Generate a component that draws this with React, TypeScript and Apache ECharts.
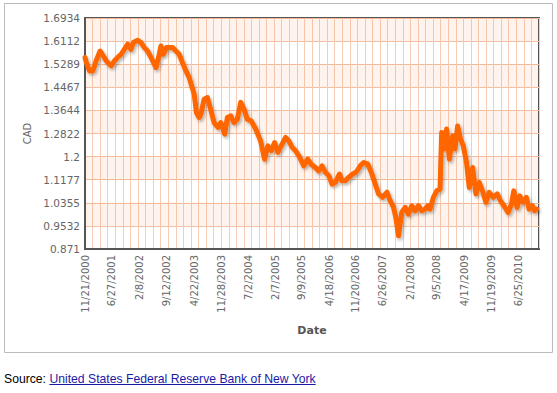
import React, { useEffect, useRef } from "react";
import * as echarts from "echarts";

const xTickLabels = [
  "11/21/2000", "6/27/2001", "2/8/2002", "9/12/2002", "4/22/2003", "11/28/2003",
  "7/2/2004", "2/7/2005", "9/9/2005", "4/18/2006", "11/20/2006", "6/26/2007",
  "2/1/2008", "9/5/2008", "4/17/2009", "11/19/2009", "6/25/2010",
];

const yTickLabels = [
  "0.871", "0.9532", "1.0355", "1.1177", "1.2", "1.2822",
  "1.3644", "1.4467", "1.5289", "1.6112", "1.6934",
];

const dates = [
  "2000-11-21", "2000-12-01", "2000-12-27", "2001-01-23", "2001-02-19", "2001-03-23", "2001-04-19", "2001-05-11", "2001-06-20", "2001-07-17", "2001-08-12", "2001-09-09", "2001-10-05", "2001-11-01", "2001-11-28",
  "2001-12-17", "2002-01-21", "2002-02-17", "2002-03-16", "2002-04-11", "2002-05-09", "2002-06-18", "2002-07-09", "2002-07-28", "2002-08-16", "2002-09-11", "2002-10-09", "2002-10-30", "2002-11-26", "2002-12-23",
  "2003-01-18", "2003-02-15", "2003-03-13", "2003-04-23", "2003-05-11", "2003-06-02", "2003-06-16", "2003-07-12", "2003-08-08", "2003-08-30", "2003-10-01", "2003-11-02", "2003-11-24", "2003-12-26",
  "2004-01-16", "2004-02-12", "2004-03-10", "2004-04-06", "2004-05-03", "2004-05-30", "2004-06-25", "2004-07-27", "2004-09-01", "2004-10-11", "2004-11-12", "2004-12-09",
  "2005-01-05", "2005-02-01", "2005-02-28", "2005-03-26", "2005-05-01", "2005-05-27", "2005-06-23", "2005-07-20", "2005-08-24", "2005-09-25", "2005-10-27", "2005-11-23", "2005-12-28",
  "2006-01-24", "2006-02-20", "2006-03-19", "2006-04-15", "2006-05-11", "2006-06-08", "2006-07-10", "2006-07-31", "2006-08-27", "2006-09-23", "2006-10-25", "2006-11-21", "2006-12-26",
  "2007-01-22", "2007-02-25", "2007-03-25", "2007-04-26", "2007-05-23", "2007-06-24", "2007-07-29", "2007-08-25", "2007-09-21", "2007-10-09", "2007-10-31", "2007-11-26", "2007-12-24",
  "2008-01-19", "2008-02-15", "2008-03-13", "2008-04-09", "2008-05-06", "2008-06-02", "2008-06-23", "2008-07-12", "2008-08-08", "2008-09-04", "2008-10-01", "2008-10-14", "2008-11-02", "2008-11-23", "2008-12-15",
  "2009-01-11", "2009-01-30", "2009-02-20", "2009-03-16", "2009-04-07", "2009-05-03", "2009-05-25", "2009-06-21", "2009-07-18", "2009-08-14", "2009-09-09", "2009-10-07", "2009-11-02", "2009-12-05",
  "2010-01-06", "2010-02-01", "2010-03-01", "2010-04-04", "2010-05-01", "2010-05-20", "2010-06-16", "2010-07-08", "2010-08-03", "2010-08-30", "2010-09-21", "2010-10-17", "2010-11-06", "2010-11-19",
];

const cadValues = [
  1.553, 1.536, 1.505, 1.505, 1.541, 1.576, 1.558, 1.541, 1.523, 1.541, 1.553, 1.564, 1.582, 1.600, 1.582,
  1.606, 1.614, 1.606, 1.588, 1.576, 1.553, 1.517, 1.553, 1.594, 1.564, 1.588, 1.588, 1.588, 1.576, 1.564,
  1.535, 1.505, 1.482, 1.422, 1.357, 1.339, 1.351, 1.404, 1.410, 1.375, 1.321, 1.304, 1.321, 1.280,
  1.339, 1.345, 1.321, 1.333, 1.393, 1.369, 1.333, 1.327, 1.298, 1.256, 1.191, 1.238,
  1.221, 1.250, 1.215, 1.238, 1.268, 1.256, 1.233, 1.221, 1.197, 1.167, 1.191, 1.173, 1.161,
  1.149, 1.167, 1.144, 1.132, 1.102, 1.108, 1.138, 1.114, 1.114, 1.126, 1.138, 1.144, 1.167,
  1.179, 1.173, 1.144, 1.102, 1.067, 1.055, 1.073, 1.043, 1.019, 0.984, 0.918, 1.001, 1.019,
  0.995, 1.025, 1.007, 1.025, 1.007, 1.013, 1.025, 1.013, 1.055, 1.078, 1.084, 1.286, 1.227, 1.298, 1.191,
  1.274, 1.227, 1.309, 1.262, 1.238, 1.179, 1.090, 1.161, 1.067, 1.108, 1.078, 1.037, 1.073, 1.055,
  1.067, 1.043, 1.025, 1.001, 1.031, 1.078, 1.019, 1.060, 1.037, 1.055, 1.013, 1.025, 1.007, 1.013,
];

const xStart = "11/21/2000";
const xEnd = "12/10/2010";

function mdyToTs(s: string): number {
  const [m, d, y] = s.split("/").map(Number);
  return new Date(y, m - 1, d).getTime();
}
function isoToTs(s: string): number {
  const [y, m, d] = s.split("-").map(Number);
  return new Date(y, m - 1, d).getTime();
}

export default function App() {
  const ref = useRef<HTMLDivElement>(null);

  useEffect(() => {
    document.body.style.margin = "0";
    const chart = echarts.init(ref.current!, null, { renderer: "svg" });
    const yTicks = yTickLabels.map(Number);
    const font = "DejaVu Sans, Verdana, sans-serif";
    const bands: any[] = [];
    for (let i = 1; i + 1 < yTicks.length; i += 2) {
      bands.push([{ yAxis: yTicks[i] }, { yAxis: yTicks[i + 1] }]);
    }
    chart.setOption({
      animation: false,
      graphic: [
        {
          type: "rect",
          shape: { x: 4.5, y: 3.5, width: 548, height: 349 },
          style: { fill: "none", stroke: "#bbbbbb", lineWidth: 1 },
          silent: true,
        },
      ],
      grid: {
        left: 85,
        top: 18,
        right: 18,
        bottom: 111,
        show: true,
        borderColor: "#555555",
        borderWidth: 2,
        backgroundColor: "transparent",
      },
      xAxis: [
        {
          type: "value",
          min: mdyToTs(xStart),
          max: mdyToTs(xEnd),
          axisLine: { show: true, lineStyle: { color: "#555555", width: 2 } },
          axisTick: { show: false, customValues: xTickLabels.map(mdyToTs) },
          splitLine: { show: false },
          axisLabel: {
            customValues: xTickLabels.map(mdyToTs),
            rotate: 90,
            margin: 6,
            color: "#666666",
            fontSize: 10,
            fontFamily: font,
            formatter: (v: number) => {
              const d = new Date(v);
              return `${d.getMonth() + 1}/${d.getDate()}/${d.getFullYear()}`;
            },
          },
          name: "Date",
          nameLocation: "middle",
          nameGap: 76,
          nameTextStyle: { color: "#555555", fontSize: 11, fontWeight: "bold", fontFamily: font },
        },
        {
          type: "value",
          min: 0,
          max: 60,
          interval: 1,
          position: "bottom",
          axisLine: { show: false },
          axisTick: { show: false },
          axisLabel: { show: false },
          splitLine: { show: true, lineStyle: { color: "#f6ccb4", width: 1 } },
        },
      ],
      yAxis: {
        type: "value",
        min: 0.871,
        max: 1.6934,
        axisLine: { show: true, lineStyle: { color: "#555555", width: 2 } },
        axisTick: { show: false, customValues: yTicks },
        axisLabel: {
          customValues: yTicks,
          margin: 5,
          color: "#666666",
          fontSize: 10.5,
          fontFamily: font,
          formatter: (v: number) => {
            const i = yTicks.indexOf(v);
            return i >= 0 ? yTickLabels[i] : String(v);
          },
        },
        splitLine: { show: true, lineStyle: { color: "#f3bfa2", width: 1 } },
        splitArea: { show: false },
        name: "CAD",
        nameLocation: "middle",
        nameGap: 52,
        nameTextStyle: { color: "#666666", fontSize: 10, fontFamily: font },
      },
      series: [
        {
          type: "line",
          xAxisIndex: 0,
          showSymbol: false,
          data: dates.map((d, i) => [isoToTs(d), cadValues[i]]),
          lineStyle: {
            color: "#ff6600",
            width: 5,
            join: "round",
            cap: "round",
            shadowColor: "rgba(0,0,0,0.3)",
            shadowBlur: 3,
            shadowOffsetX: 1.5,
            shadowOffsetY: 2,
          },
          markArea: {
            silent: true,
            itemStyle: { color: "rgba(255,102,0,0.07)" },
            label: { show: false },
            data: bands,
          },
          z: 5,
        },
      ],
    });
    return () => chart.dispose();
  }, []);

  return (
    <div style={{ position: "relative", width: 557, height: 393 }}>
      <div ref={ref} style={{ position: "absolute", left: 0, top: 0, width: 557, height: 360 }} />
      <div
        style={{
          position: "absolute",
          left: 4,
          top: 372,
          fontFamily: "Liberation Sans, Arial, sans-serif",
          fontSize: 12.2,
          color: "#000",
          whiteSpace: "nowrap",
        }}
      >
        Source:{" "}
        <a href="#" style={{ color: "#1a1aa6", textDecoration: "underline" }}>
          United States Federal Reserve Bank of New York
        </a>
      </div>
    </div>
  );
}
